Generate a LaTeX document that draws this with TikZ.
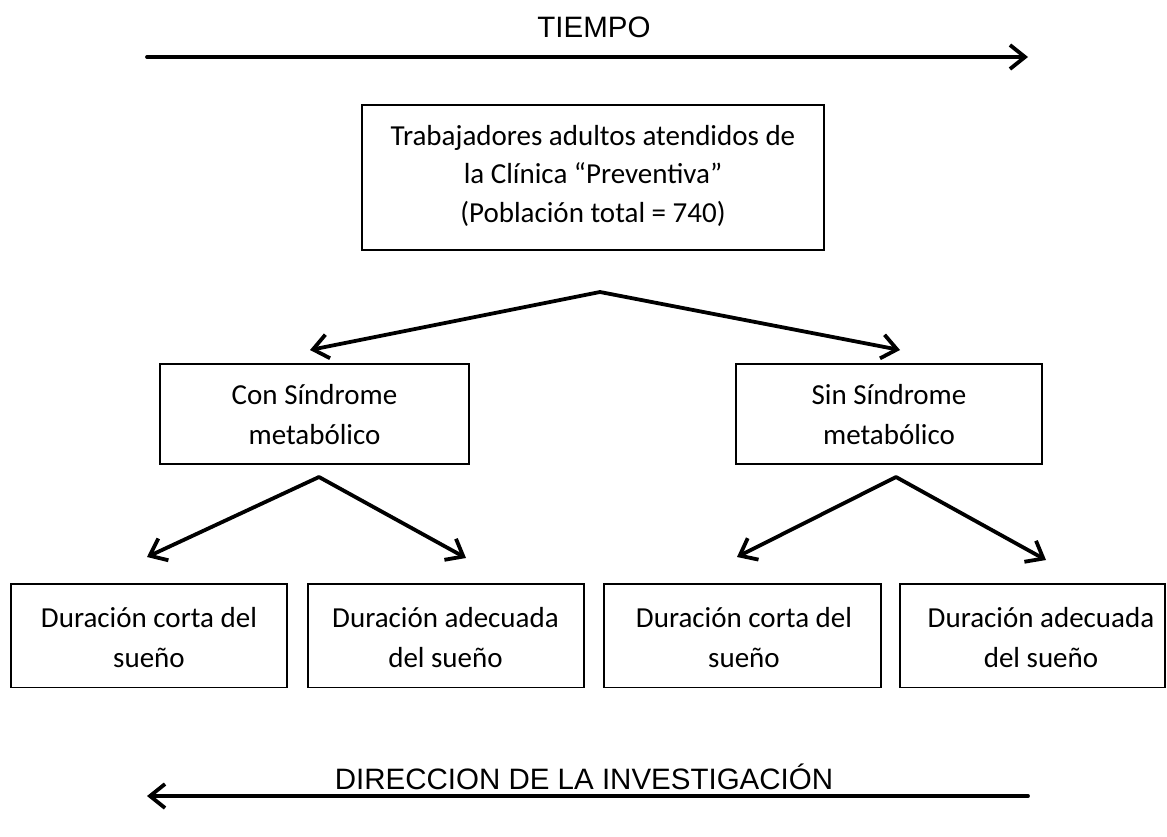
\documentclass[tikz,border=0pt]{standalone}
\usepackage{fontspec}
\setmainfont{Carlito}
\newfontfamily\arialf{Liberation Sans}
\usetikzlibrary{arrows.meta}
\newcommand\Ls{\rule[-14pt]{0pt}{40pt}}
\newcommand\Lt{\rule[-13pt]{0pt}{38.5pt}}
\begin{document}
\begin{tikzpicture}[x=1pt,y=-1pt,
  box/.style={draw, line width=1.3pt, inner sep=0pt},
  txt/.style={align=center, inner sep=0pt, font=\fontsize{29}{40}\selectfont},
  ttxt/.style={align=center, inner sep=0pt, font=\fontsize{29}{38.5}\selectfont},
  axislbl/.style={anchor=base, inner sep=0pt, font=\arialf\fontsize{29.5}{34}\selectfont},
  conn/.style={line width=3.8pt, line cap=round, -{Straight Barb[length=15pt, width=24pt]}}]
\useasboundingbox (0,0) rectangle (1167,836);

% time axis
\node[axislbl] (tiempo) at (594,37) {TIEMPO};
\coordinate (t0) at (147,57);
\coordinate (t1) at (1028,57);
\draw[conn] (t0) -- (t1);

% top box
\node[box, minimum width=462pt, minimum height=145pt] (top) at (593,177.5) {};
\node[ttxt] (toptxt) at (593,177.25) {\Lt Trabajadores adultos atendidos de\\\Lt la Clínica “Preventiva”\\\Lt (Población total = 740)};

% middle boxes
\node[box, minimum width=309pt, minimum height=100pt] (con) at (314.5,414) {};
\node[txt] (contxt) at (314.5,418) {\Ls Con Síndrome\\\Ls metabólico};
\node[box, minimum width=306pt, minimum height=100pt] (sin) at (889,414) {};
\node[txt] (sintxt) at (889,418) {\Ls Sin Síndrome\\\Ls metabólico};

% lower boxes
\node[box, minimum width=276pt, minimum height=103.5pt] (b1) at (149,635.75) {};
\node[txt] (b1t) at (149,641) {\Ls Duración corta del\\\Ls sueño};
\node[box, minimum width=276pt, minimum height=103.5pt] (b2) at (446,635.75) {};
\node[txt] (b2t) at (445.5,641) {\Ls Duración adecuada\\\Ls del sueño};
\node[box, minimum width=277pt, minimum height=103.5pt] (b3) at (742.5,635.75) {};
\node[txt] (b3t) at (744,641) {\Ls Duración corta del\\\Ls sueño};
\node[box, minimum width=265pt, minimum height=103.5pt] (b4) at (1032.5,635.75) {};
\node[txt] (b4t) at (1041,641) {\Ls Duración adecuada\\\Ls del sueño};

% branch connectors
\coordinate (a0) at (600,292);
\coordinate (aL) at (310,350);
\coordinate (aR) at (900,350);
\draw[conn] (a0) -- (aL);
\draw[conn] (a0) -- (aR);

\coordinate (c0) at (319,477);
\coordinate (c1) at (147,557);
\coordinate (c2) at (466,558);
\draw[conn] (c0) -- (c1);
\draw[conn] (c0) -- (c2);

\coordinate (s0) at (896,477);
\coordinate (s1) at (737,557);
\coordinate (s2) at (1046,560);
\draw[conn] (s0) -- (s1);
\draw[conn] (s0) -- (s2);

% research direction axis
\node[axislbl] (dir) at (584,789) {DIRECCION DE LA INVESTIGACIÓN};
\coordinate (d0) at (1028,796);
\coordinate (d1) at (147,796);
\draw[conn] (d0) -- (d1);
\end{tikzpicture}
\end{document}
